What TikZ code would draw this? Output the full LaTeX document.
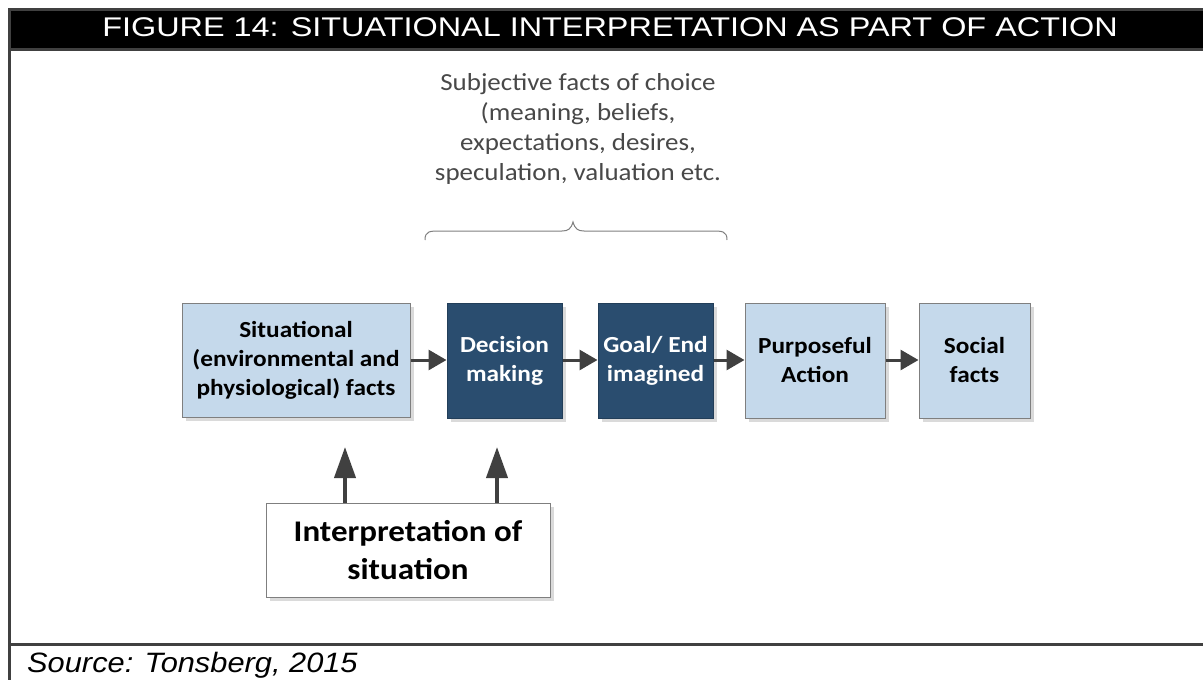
\documentclass[tikz,border=0pt]{standalone}
\usepackage{fontspec}
\setmainfont{Carlito}[FakeStretch=1.1]
\newfontfamily\arialfont{Liberation Sans}[FakeStretch=1.1]
\newfontfamily\titlefont{Liberation Sans}[FakeStretch=1.2]
\usetikzlibrary{arrows.meta}

\definecolor{framegray}{RGB}{64,64,64}
\definecolor{lightfill}{RGB}{197,217,235}
\definecolor{darkfill}{RGB}{42,77,111}
\definecolor{boxline}{RGB}{127,127,127}
\definecolor{shadowgray}{RGB}{218,218,218}
\definecolor{arrowgray}{RGB}{64,64,64}
\definecolor{textgray}{RGB}{72,72,72}

\tikzset{
  stepbox/.style={draw=boxline, line width=1pt, fill=lightfill, align=center,
    inner sep=0pt, font=\fontsize{23}{29}\selectfont\bfseries},
  darkstep/.style={stepbox, draw=darkfill!80!black, fill=darkfill, text=white},
  interpbox/.style={draw=boxline, line width=1pt, fill=white, align=center,
    inner sep=0pt, font=\fontsize{30}{38}\selectfont\bfseries},
  flow/.style={draw=arrowgray, line width=3pt, -{Triangle[length=18pt,width=20pt]}},
  upflow/.style={draw=arrowgray, line width=4pt, -{Triangle[length=31pt,width=21pt]}},
  shadow/.style={fill=shadowgray, draw=none},
}

\begin{document}
\begin{tikzpicture}[x=1pt,y=-1pt]
\useasboundingbox (0,0) rectangle (1203,680);

% frame and title bar
\fill[black] (11,11) rectangle (1203,48);
\draw[framegray, line width=3pt] (9.5,680) -- (9.5,9.5) -- (1203,9.5);
\draw[framegray, line width=3pt] (9.5,49.5) -- (1203,49.5);
\draw[framegray, line width=3pt] (9.5,644.5) -- (1203,644.5);
\node[text=white, font=\titlefont\fontsize{27}{28}\selectfont, inner sep=0pt]
  (title) at (610,27.5) {FIGURE 14: SITUATIONAL INTERPRETATION AS PART OF ACTION};
\node[anchor=base west, font=\arialfont\itshape\fontsize{28}{30}\selectfont, inner sep=0pt]
  (source) at (27,672) {Source: Tonsberg, 2015};

% subjective facts and brace
\node[align=center, text=textgray, font=\fontsize{24.5}{30}\selectfont, inner sep=0pt]
  (subj) at (578,129) {Subjective facts of choice\\(meaning, beliefs,\\expectations, desires,\\speculation, valuation etc.};
\coordinate (bl) at (425,240);
\coordinate (br) at (727,240);
\coordinate (bt) at (573,222);
\draw[boxline, line width=1pt]
  (bl) .. controls (425,231) and (430,231) .. (440,231) -- (562,231)
  .. controls (568,231) and (571,229) .. (bt)
  .. controls (575,229) and (578,231) .. (584,231) -- (712,231)
  .. controls (722,231) and (727,231) .. (br);

% shadows
\foreach \a/\b/\c/\d in {182/303/410/417, 447/303/562/418, 598/303/713/418,
  745/303/885/418, 919/303/1030/418, 266/503/550/597}
  \fill[shadow] (\a+4,\b+4) rectangle (\c+4,\d+4);

% boxes
\node[stepbox, minimum width=228pt, minimum height=114pt] (sit) at (296,360)
  {Situational\\(environmental and\\physiological) facts};
\node[darkstep, minimum width=115pt, minimum height=115pt] (dec) at (504.5,360.5)
  {Decision\\making};
\node[darkstep, minimum width=115pt, minimum height=115pt] (goal) at (655.5,360.5)
  {Goal/ End\\imagined};
\node[stepbox, minimum width=140pt, minimum height=115pt] (purp) at (815,360.5)
  {Purposeful\\Action};
\node[stepbox, minimum width=111pt, minimum height=115pt] (soc) at (974.5,360.5)
  {Social\\facts};
\node[interpbox, minimum width=284pt, minimum height=94pt] (interp) at (408,550)
  {Interpretation of\\situation};

% connectors
\draw[flow] (sit.east |- 0,360) -- (dec.west |- 0,360);
\draw[flow] (dec.east |- 0,360) -- (goal.west |- 0,360);
\draw[flow] (goal.east |- 0,360) -- (purp.west |- 0,360);
\draw[flow] (purp.east |- 0,360) -- (soc.west |- 0,360);

\coordinate (tipA) at (345,447);
\coordinate (tipB) at (497,447);
\draw[upflow] (interp.north -| tipA) -- (tipA);
\draw[upflow] (interp.north -| tipB) -- (tipB);
\end{tikzpicture}
\end{document}
